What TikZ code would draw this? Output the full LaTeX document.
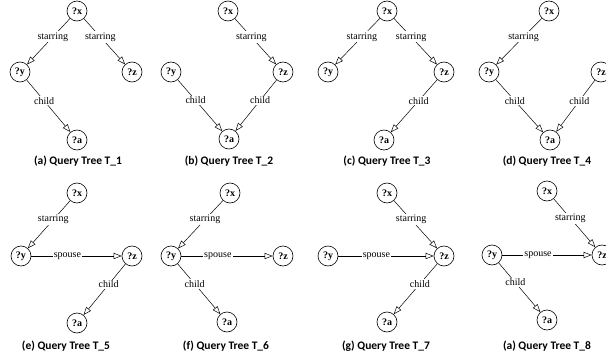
\documentclass[tikz,border=0pt]{standalone}
\usepackage{fontspec}
\setmainfont{Liberation Serif}
\newfontfamily\capfont{Carlito}
\usetikzlibrary{arrows.meta}

\tikzset{
  var/.style={circle, draw, line width=0.6pt, minimum size=20pt, inner sep=0pt, font=\fontsize{10}{12}\selectfont\bfseries},
  rel/.style={line width=0.5pt, -{Triangle[open, length=8pt, width=6pt]}},
  lbl/.style={fill=white, inner sep=1.2pt, pos=0.4, font=\fontsize{10}{12}\selectfont},
  subcap/.style={font=\fontsize{11.5}{13}\selectfont\capfont\bfseries}
}

\begin{document}
\begin{tikzpicture}[x=1pt, y=-1pt]
        \useasboundingbox (0,0) rectangle (606,356);

        % (a) Query Tree T_1
        \node[var] (ax) at (77,11) {?x};
        \node[var] (ay) at (20,72) {?y};
        \node[var] (az) at (132,72) {?z};
        \node[var] (aa) at (77,140) {?a};
        \draw[rel] (ax) -- node[lbl] {starring} (ay);
        \draw[rel] (ax) -- node[lbl] {starring} (az);
        \draw[rel] (ay) -- node[lbl] {child} (aa);
        \node[subcap] (acap) at (78,161) {(a) Query Tree T\_1};

        % (b) Query Tree T_2
        \node[var] (bx) at (228,11) {?x};
        \node[var] (by) at (171,72) {?y};
        \node[var] (bz) at (283,72) {?z};
        \node[var] (ba) at (229,139) {?a};
        \draw[rel] (bx) -- node[lbl] {starring} (bz);
        \draw[rel] (by) -- node[lbl] {child} (ba);
        \draw[rel] (bz) -- node[lbl] {child} (ba);
        \node[subcap] (bcap) at (229,161) {(b) Query Tree T\_2};

        % (c) Query Tree T_3
        \node[var] (cx) at (387,11) {?x};
        \node[var] (cy) at (328,72) {?y};
        \node[var] (cz) at (444,72) {?z};
        \node[var] (ca) at (384,140) {?a};
        \draw[rel] (cx) -- node[lbl] {starring} (cy);
        \draw[rel] (cx) -- node[lbl] {starring} (cz);
        \draw[rel] (cz) -- node[lbl] {child} (ca);
        \node[subcap] (ccap) at (387,161) {(c) Query Tree T\_3};

        % (d) Query Tree T_4
        \node[var] (dx) at (549,11) {?x};
        \node[var] (dy) at (489,72) {?y};
        \node[var] (dz) at (601,72) {?z};
        \node[var] (da) at (550,140) {?a};
        \draw[rel] (dx) -- node[lbl] {starring} (dy);
        \draw[rel] (dy) -- node[lbl] {child} (da);
        \draw[rel] (dz) -- node[lbl] {child} (da);
        \node[subcap] (dcap) at (547,161) {(d) Query Tree T\_4};

        % (e) Query Tree T_5
        \node[var] (ex) at (77,193) {?x};
        \node[var] (ey) at (21,256) {?y};
        \node[var] (ez) at (132,256) {?z};
        \node[var] (ea) at (77,323) {?a};
        \draw[rel] (ex) -- node[lbl] {starring} (ey);
        \draw[rel] (ey) -- node[lbl] {spouse} (ez);
        \draw[rel] (ez) -- node[lbl] {child} (ea);
        \node[subcap] (ecap) at (66,346) {(e) Query Tree T\_5};

        % (f) Query Tree T_6
        \node[var] (fx) at (230,193) {?x};
        \node[var] (fy) at (171,256) {?y};
        \node[var] (fz) at (283,256) {?z};
        \node[var] (fa) at (227,322) {?a};
        \draw[rel] (fx) -- node[lbl] {starring} (fy);
        \draw[rel] (fy) -- node[lbl] {spouse} (fz);
        \draw[rel] (fy) -- node[lbl] {child} (fa);
        \node[subcap] (fcap) at (226,346) {(f) Query Tree T\_6};

        % (g) Query Tree T_7
        \node[var] (gx) at (387,193) {?x};
        \node[var] (gy) at (328,256) {?y};
        \node[var] (gz) at (444,256) {?z};
        \node[var] (ga) at (387,322) {?a};
        \draw[rel] (gx) -- node[lbl] {starring} (gz);
        \draw[rel] (gy) -- node[lbl] {spouse} (gz);
        \draw[rel] (gz) -- node[lbl] {child} (ga);
        \node[subcap] (gcap) at (386,346) {(g) Query Tree T\_7};

        % (a) Query Tree T_8
        \node[var] (hx) at (547,191) {?x};
        \node[var] (hy) at (492,255) {?y};
        \node[var] (hz) at (602,255) {?z};
        \node[var] (ha) at (547,320) {?a};
        \draw[rel] (hx) -- node[lbl] {starring} (hz);
        \draw[rel] (hy) -- node[lbl] {spouse} (hz);
        \draw[rel] (hy) -- node[lbl] {child} (ha);
        \node[subcap] (hcap) at (547,346) {(a) Query Tree T\_8};
\end{tikzpicture}
\end{document}
